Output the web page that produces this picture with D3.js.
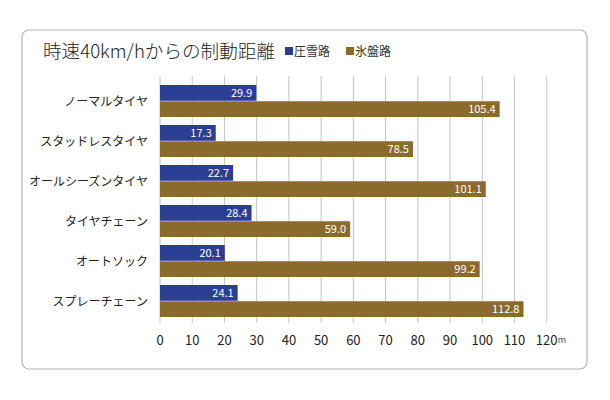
<!DOCTYPE html>
<html><head><meta charset="utf-8">
<script src="https://cdn.jsdelivr.net/npm/d3@7"></script>
<style>
body{margin:0;background:#fff;}
text{font-family:"Noto Sans CJK JP","Noto Sans",sans-serif;}
</style></head>
<body><svg id="c" width="610" height="400"></svg>
<script>
const categories = ["ノーマルタイヤ","スタッドレスタイヤ","オールシーズンタイヤ","タイヤチェーン","オートソック","スプレーチェーン"];
const seriesNames = ["圧雪路","氷盤路"];
const snowValues = [29.9, 17.3, 22.7, 28.4, 20.1, 24.1];
const iceValues = [105.4, 78.5, 101.1, 59.0, 99.2, 112.8];
const tickValues = [0,10,20,30,40,50,60,70,80,90,100,110,120];
const colors = ["#2c3e94", "#8a6b2d"];

const svg = d3.select("#c");
svg.append("rect").attr("x",22).attr("y",30).attr("width",565).attr("height",339)
  .attr("rx",7).attr("fill","#fff").attr("stroke","#b3b3b3").attr("stroke-width",1.2);

svg.append("text").attr("x",43).attr("y",58).attr("font-size",18.5).attr("font-weight",300).attr("fill","#222")
  .attr("textLength",232).attr("lengthAdjust","spacingAndGlyphs")
  .text("時速40km/hからの制動距離");

// legend
const lg = [{x:285},{x:346}];
seriesNames.forEach((s,i)=>{
  svg.append("rect").attr("x",lg[i].x).attr("y",47).attr("width",8).attr("height",8).attr("fill",colors[i]);
  svg.append("text").attr("x",lg[i].x+9).attr("y",56).attr("font-size",12).attr("fill","#333").text(s);
});

const x = d3.scaleLinear().domain([0,120]).range([160,546.7]);
const y = d3.scaleBand().domain(categories).range([81,321]).paddingInner(0.2).paddingOuter(0.1);
const ys = d3.scaleBand().domain(seriesNames).range([0,y.bandwidth()]).paddingInner(0.03);

// grid
svg.append("g").selectAll("line").data(tickValues).join("line")
  .attr("x1",d=>x(d)).attr("x2",d=>x(d)).attr("y1",76).attr("y2",323)
  .attr("stroke","#c4c4c4").attr("stroke-width",1);

// tick labels
svg.append("g").selectAll("text").data(tickValues).join("text")
  .attr("x",d=>x(d)).attr("y",345).attr("text-anchor","middle").attr("font-size",13).attr("fill","#222")
  .text(d=>d);
svg.append("text").attr("x",x(120)+11).attr("y",343).attr("font-size",9).attr("fill","#555").text("m");

// category labels
svg.append("g").selectAll("text").data(categories).join("text")
  .attr("x",148).attr("y",d=>y(d)+y.bandwidth()/2+4.5).attr("text-anchor","end")
  .attr("font-size",12).attr("fill","#222").text(d=>d);

const rows = categories.map((c,i)=>({c, vals:[snowValues[i], iceValues[i]]}));
const g = svg.append("g");
rows.forEach(r=>{
  r.vals.forEach((v,j)=>{
    const s = seriesNames[j];
    const by = y(r.c)+ys(s);
    g.append("rect").attr("x",x(0)).attr("y",by).attr("width",x(v)-x(0)).attr("height",ys.bandwidth())
      .attr("fill",colors[j]);
    g.append("text").attr("x",x(v)-4).attr("y",by+ys.bandwidth()/2+4).attr("text-anchor","end")
      .attr("font-size",11).attr("fill","#fff").text(v.toFixed(1));
  });
});
</script></body></html>
